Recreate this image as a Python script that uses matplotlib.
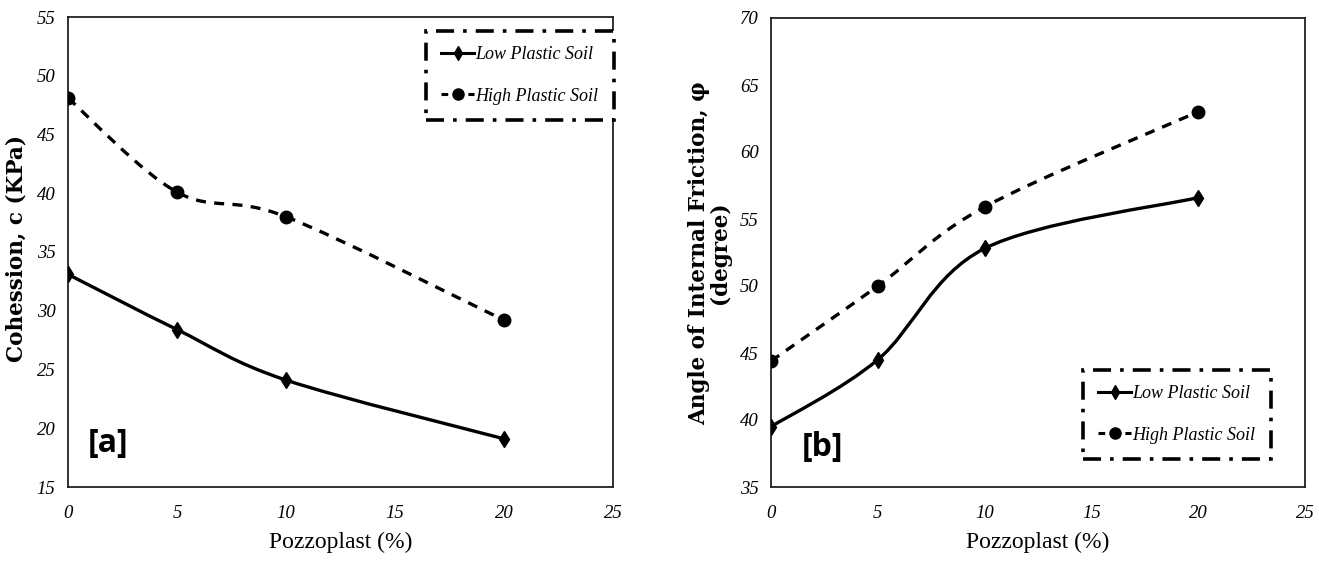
import numpy as np
import matplotlib
matplotlib.use("Agg")
import matplotlib.pyplot as plt
from matplotlib.path import Path
from matplotlib.patches import PathPatch
from matplotlib.lines import Line2D

# ---- data ----
pozzoplast = [0, 5, 10, 20]
cohesion_low = [33.1, 28.4, 24.1, 19.1]
cohesion_high = [48.1, 40.1, 38.0, 29.2]
friction_low = [39.5, 44.5, 52.8, 56.6]
friction_high = [44.4, 50.0, 55.9, 63.0]
series_names = ["Low Plastic Soil", "High Plastic Soil"]
x_ticks = [0, 5, 10, 15, 20, 25]
a_yticks = [15, 20, 25, 30, 35, 40, 45, 50, 55]
b_yticks = [35, 40, 45, 50, 55, 60, 65, 70]

W, H = 1319, 567
fig = plt.figure(figsize=(W / 100, H / 100), dpi=100)

def px_axes(l, t, r, b):
    return fig.add_axes([l / W, 1 - b / H, (r - l) / W, (b - t) / H])

def smooth_path(xs, ys):
    """Excel-like smoothed line: cubic Bezier segments (Catmull-Rom control points)."""
    P = np.column_stack([xs, ys]).astype(float)
    n = len(P)
    verts = [P[0]]
    codes = [Path.MOVETO]
    for i in range(n - 1):
        p0 = P[i - 1] if i > 0 else P[i]
        p1, p2 = P[i], P[i + 1]
        p3 = P[i + 2] if i + 2 < n else P[i + 1]
        c1 = p1 + (p2 - p0) / 6.0
        c2 = p2 - (p3 - p1) / 6.0
        verts += [c1, c2, p2]
        codes += [Path.CURVE4] * 3
    return Path(verts, codes)

tick_font = dict(family="Liberation Serif", style="italic", size=13.5)

def style_axes(ax, yticks, ylim):
    ax.set_xlim(0, 25)
    ax.set_ylim(*ylim)
    ax.set_xticks(x_ticks)
    ax.set_yticks(yticks)
    ax.set_xticklabels([str(v) for v in x_ticks], **tick_font)
    ax.set_yticklabels([str(v) for v in yticks], **tick_font)
    ax.tick_params(axis="both", length=0)
    ax.tick_params(axis="x", pad=13)
    ax.tick_params(axis="y", pad=9)
    for s in ax.spines.values():
        s.set_linewidth(1.3)
        s.set_color("#222222")
    ax.set_xlabel("Pozzoplast (%)", family="Liberation Serif", size=17, labelpad=7)

def draw_series(ax, xs, low, high):
    ax.add_patch(PathPatch(smooth_path(xs, low), fill=False, lw=2.4, ec="black",
                           capstyle="round", zorder=3))
    ax.add_patch(PathPatch(smooth_path(xs, high), fill=False, lw=2.4, ec="black",
                           linestyle=(0, (3.0, 2.5)), zorder=3))
    ax.plot(xs, low, linestyle="none", marker="d", ms=8, mfc="black", mec="black", zorder=4)
    ax.plot(xs, high, linestyle="none", marker="o", ms=9, mfc="black", mec="black", zorder=4)

def add_legend(ax, anchor_px):
    handles = [
        Line2D([], [], color="black", lw=2.2, marker="d", ms=7),
        Line2D([], [], color="black", lw=2.2, linestyle=(0, (2.2, 2.2)), marker="o", ms=8),
    ]
    leg = ax.legend(handles, series_names, loc="upper left",
                    bbox_to_anchor=(anchor_px[0] / W, 1 - anchor_px[1] / H),
                    bbox_transform=fig.transFigure, borderaxespad=0,
                    prop=dict(family="Liberation Serif", style="italic", size=13),
                    handlelength=1.8, handletextpad=0.1, labelspacing=1.35,
                    borderpad=0.85, fancybox=False, framealpha=1)
    fr = leg.get_frame()
    fr.set_edgecolor("black")
    fr.set_linewidth(2.6)
    fr.set_linestyle((0, (5, 2.5, 1, 2.5)))
    return leg

ylab_font = dict(family="DejaVu Serif", weight="bold", size=15.5)

# ---- panel [a] ----
ax1 = px_axes(68, 17, 613, 487)
style_axes(ax1, a_yticks, (15, 55))
draw_series(ax1, pozzoplast, cohesion_low, cohesion_high)
ax1.set_ylabel("Cohession, c (KPa)", **ylab_font)
ax1.yaxis.set_label_coords(28 / W, 1 - 249 / H, transform=fig.transFigure)
add_legend(ax1, (426, 31))
ax1.text(108 / W, 1 - 443 / H, "[a]", transform=fig.transFigure, ha="center", va="center",
         family="Open Sans", weight="bold", size=23)

# ---- panel [b] ----
ax2 = px_axes(771, 18, 1305, 487)
style_axes(ax2, b_yticks, (35, 70))
draw_series(ax2, pozzoplast, friction_low, friction_high)
ax2.set_ylabel("Angle of Internal Friction, \u03c6\n(degree)", linespacing=0.9, **ylab_font)
ax2.yaxis.set_label_coords(731 / W, 1 - 253 / H, transform=fig.transFigure)
add_legend(ax2, (1083, 370))
ax2.text(822 / W, 1 - 447 / H, "[b]", transform=fig.transFigure, ha="center", va="center",
         family="Open Sans", weight="bold", size=23)

fig.savefig("out.png", dpi=100)
